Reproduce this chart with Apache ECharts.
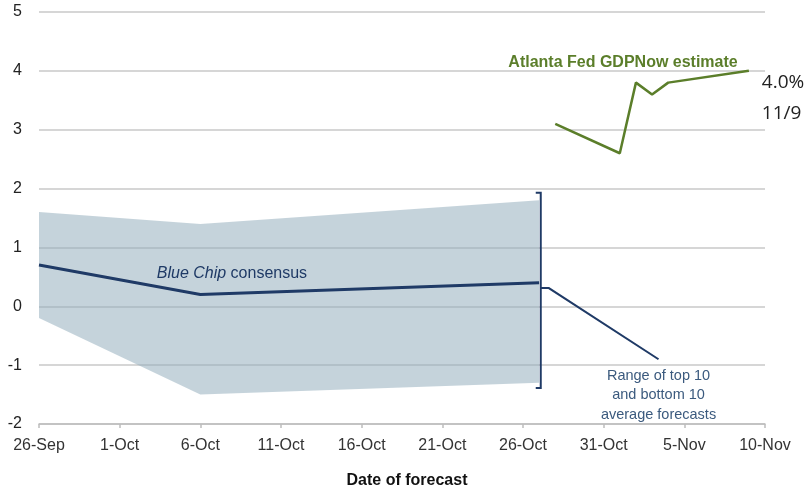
<!DOCTYPE html>
<html><head><meta charset="utf-8">
<script src="https://cdn.jsdelivr.net/npm/echarts@6/dist/echarts.min.js"></script>
<style>html,body{margin:0;padding:0;background:#fff}#c{width:812px;height:485px}</style>
</head><body><div id="c"></div>
<script>
// x values are days since 26-Sep
const xTickLabels = ['26-Sep','1-Oct','6-Oct','11-Oct','16-Oct','21-Oct','26-Oct','31-Oct','5-Nov','10-Nov'];
const yTicks = [-2,-1,0,1,2,3,4,5];
const consensusDays = [0, 10, 31];
const consensusValues = [0.7, 0.2, 0.4];
const rangeDays = [0, 10, 31];
const rangeUpper = [1.6, 1.4, 1.8];
const rangeLower = [-0.2, -1.5, -1.3];
const gdpNowDays = [32, 36, 37, 38, 39, 44];
const gdpNowValues = [3.1, 2.6, 3.8, 3.6, 3.8, 4.0];

const navy = '#1f3a66';
const green = '#5b7e2a';
const chart = echarts.init(document.getElementById('c'), null, {renderer:'canvas'});
const font = 'Liberation Sans, Arial, sans-serif';

chart.setOption({
  animation: false,
  grid: {left: 39, right: 47, top: 12, bottom: 61, containLabel: false, outerBoundsMode: 'none'},
  xAxis: {
    type: 'value', min: 0, max: 45, interval: 5,
    axisLine: {show: true, onZero: false, lineStyle: {color: '#bdbdbd', width: 1.5}},
    axisTick: {show: true, length: 4, lineStyle: {color: '#bdbdbd', width: 1.5}},
    splitLine: {show: false},
    axisLabel: {formatter: v => xTickLabels[Math.round(v/5)], fontSize: 16, color: '#333', margin: 14, fontFamily: font},
    name: 'Date of forecast', nameLocation: 'middle', nameGap: 49,
    nameTextStyle: {fontSize: 16, fontWeight: 'bold', color: '#111', fontFamily: font, padding: [0, 0, 0, 10]}
  },
  yAxis: {
    type: 'value', min: yTicks[0], max: yTicks[yTicks.length-1], interval: 1,
    axisLine: {show: false}, axisTick: {show: false},
    splitLine: {show: true, lineStyle: {color: '#c9c9c9', width: 1.5}},
    axisLabel: {fontSize: 16, color: '#222', margin: 17, fontFamily: font}
  },
  series: [
    {type: 'custom', name: 'Range', silent: true, z: 1,
     data: rangeDays.map((d,i)=>[d, rangeLower[i], rangeUpper[i]]),
     encode: {x: 0, y: [1, 2]},
     renderItem: function (params, api) {
       if (params.dataIndex !== 0) return null;
       const top = rangeDays.map((d,i)=>api.coord([d, rangeUpper[i]]));
       const bot = rangeDays.map((d,i)=>api.coord([d, rangeLower[i]])).reverse();
       return {type: 'polygon', shape: {points: top.concat(bot)}, style: {fill: 'rgba(150,175,190,0.55)'}};
     }},
    {type: 'line', name: 'Blue Chip consensus', symbol: 'none', z: 3, lineStyle: {color: navy, width: 3},
     data: consensusDays.map((d,i)=>[d, consensusValues[i]])},
    {type: 'line', name: 'Atlanta Fed GDPNow estimate', symbol: 'none', z: 3, lineStyle: {color: green, width: 2.5},
     data: gdpNowDays.map((d,i)=>[d, gdpNowValues[i]])}
  ]
});

const P = (d, v) => chart.convertToPixel({xAxisIndex:0, yAxisIndex:0}, [d, v]);
const bx = P(31.1, 0)[0];
const bTop = P(0, 1.93)[1], bBot = P(0, -1.39)[1];
const c0 = P(31.1, 0.31), c1 = P(31.6, 0.31), c2 = P(38.4, -0.9);
const tGdp = P(36.2, 4.14), t40 = P(44.8, 3.8), t119 = P(44.8, 3.27);
const tBlue = P(7.3, 0.56), tRange = P(38.4, -1.51);

chart.setOption({graphic: [
  {type: 'polyline', z: 100, shape: {points: [[bx-5, bTop],[bx, bTop],[bx, bBot],[bx-5, bBot]]}, style: {stroke: navy, lineWidth: 2, fill: null}},
  {type: 'polyline', z: 100, shape: {points: [c0, c1, c2]}, style: {stroke: navy, lineWidth: 2, fill: null}},
  {type: 'text', z: 100, x: tGdp[0], y: tGdp[1], style: {text: 'Atlanta Fed GDPNow estimate', fill: green, font: 'bold 16px ' + font, align: 'center', verticalAlign: 'middle'}},
  {type: 'text', z: 100, x: t40[0], y: t40[1], style: {text: '4.0%', fill: '#222', font: '19px "Open Sans", sans-serif', align: 'left', verticalAlign: 'middle'}},
  {type: 'text', z: 100, x: t119[0], y: t119[1], style: {text: '11/9', fill: '#222', font: '19px "Open Sans", sans-serif', align: 'left', verticalAlign: 'middle'}},
  {type: 'text', z: 100, x: tBlue[0], y: tBlue[1], style: {text: '{i|Blue Chip} consensus', fill: navy, font: '16px ' + font, align: 'left', verticalAlign: 'middle',
     rich: {i: {fontStyle: 'italic', fontSize: 16, fontFamily: font, fill: navy, color: navy}}}},
  {type: 'text', z: 100, x: tRange[0], y: tRange[1], style: {text: 'Range of top 10\nand bottom 10\naverage forecasts', fill: '#3b5a7e', font: '14.5px ' + font, align: 'center', verticalAlign: 'middle', lineHeight: 19.5}}
]});
</script></body></html>
